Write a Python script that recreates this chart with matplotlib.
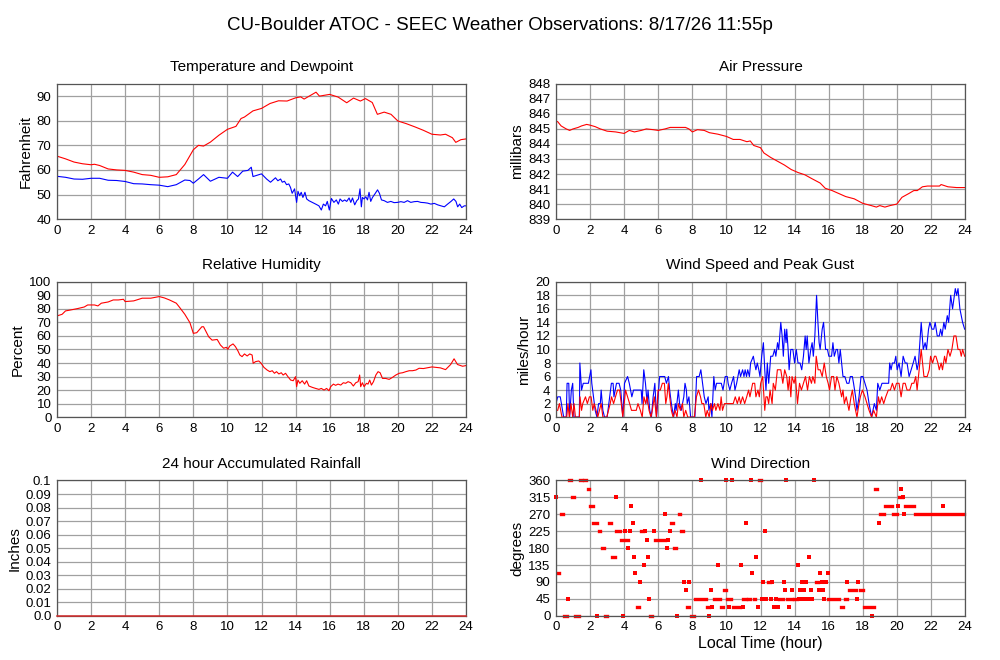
import numpy as np
import matplotlib
matplotlib.use("Agg")
import matplotlib.pyplot as plt

plt.rcParams['font.family'] = ['Liberation Sans', 'DejaVu Sans']

# Temperature and dewpoint (deg F)
temp_hours = [0, 0.5, 1, 1.5, 2, 2.2, 2.5, 3, 3.5, 4, 4.5, 5, 5.5, 6, 6.5, 7, 7.5, 8, 8.3, 8.6,
              9, 9.5, 10, 10.5, 10.8, 11, 11.5, 12, 12.5, 13, 13.5, 14, 14.3, 14.5, 15, 15.2,
              15.4, 16, 16.5, 17, 17.4, 17.8, 18.1, 18.5, 18.8, 19.2, 19.6, 20, 20.5, 21, 21.5,
              22, 22.5, 22.8, 23.2, 23.4, 23.7, 24]
temp_vals = [65.6, 64.5, 63.2, 62.5, 62.1, 62.3, 61.8, 60.4, 60.0, 59.8, 59.1, 58.1, 57.8, 57.0,
             57.2, 58.1, 62.2, 68.2, 70.0, 69.7, 71.3, 74.1, 76.5, 77.7, 80.9, 81.5, 84.0, 85.0,
             87.0, 88.1, 88.0, 89.3, 89.7, 88.8, 90.8, 91.6, 90.0, 90.7, 89.6, 87.3, 89.2, 88.0,
             89.0, 87.4, 82.6, 83.5, 82.6, 79.9, 78.8, 77.5, 76.1, 74.5, 74.2, 74.5, 73.1, 71.2,
             72.3, 72.6]

dew_hours = [0, 0.5, 1, 1.5, 2, 2.5, 3, 3.5, 4, 4.5, 5, 5.5, 6, 6.5, 7, 7.5, 7.8, 8, 8.3, 8.6,
             9, 9.5, 10, 10.3, 10.6, 10.9, 11.2, 11.4, 11.5, 12, 12.3,
             12.53, 12.82, 12.96, 13.12, 13.22, 13.35, 13.47, 13.6, 13.7, 13.8, 13.94, 14.06,
             14.14, 14.24, 14.33, 14.43, 14.55, 14.65, 14.78, 14.98, 15.18, 15.37, 15.51, 15.63,
             15.76, 15.86, 15.98, 16.1, 16.25, 16.39, 16.51, 16.61, 16.75, 16.88, 17.0, 17.14,
             17.24, 17.34, 17.47, 17.59, 17.69, 17.78, 17.86, 17.92, 18.02, 18.12, 18.22, 18.31,
             18.41, 18.51, 18.65, 18.81, 18.92, 19.04, 19.2, 19.39, 19.59, 19.78, 19.98, 20.18,
             20.37, 20.57, 20.76, 20.96, 21.16, 21.35, 21.55, 21.75, 21.94, 22.14, 22.34, 22.53,
             22.73, 22.92, 23.12, 23.28, 23.41, 23.51, 23.63, 23.75, 23.9, 24]
dew_vals = [57.4, 57.0, 56.3, 56.2, 56.6, 56.6, 55.8, 55.7, 55.3, 54.4, 54.3, 54.0, 53.8, 53.2,
            54.0, 55.9, 55.7, 54.6, 56.3, 58.1, 55.4, 57.0, 56.6, 59.1, 57.3, 59.5, 59.8, 61.1,
            57.3, 58.4, 56.3,
            55.0, 56.8, 55.6, 56.3, 55.0, 55.4, 54.0, 54.3, 52.9, 50.5, 52.3, 46.8,
            51.3, 49.5, 50.9, 48.8, 50.9, 48.2, 47.5, 46.8, 46.1, 45.4, 43.7, 46.1,
            45.4, 47.2, 43.7, 48.4, 46.8, 47.8, 46.1, 48.2, 47.2, 47.8, 47.2, 48.6,
            46.8, 48.6, 45.8, 47.5, 48.2, 52.3, 45.0, 48.8, 48.2, 49.1, 47.8, 50.9,
            47.2, 48.8, 50.2, 51.9, 50.5, 47.8, 47.5, 46.8, 47.2, 46.7, 46.8, 47.1,
            46.8, 47.5, 46.8, 47.1, 47.2, 46.8, 46.7, 46.5, 46.1, 46.4, 45.8, 45.4,
            45.0, 46.1, 47.2, 48.2, 47.2, 45.0, 46.1, 44.7, 45.4, 45.4]

# Air pressure (mb)
pres_hours = [0, 0.1, 0.3, 0.6, 0.8, 1, 1.3, 1.5, 1.8, 2, 2.3, 2.6, 3, 3.5, 4, 4.3, 4.6, 5, 5.3,
              5.7, 6, 6.4, 6.7, 7, 7.6, 7.8, 8, 8.3, 8.7, 9, 9.5, 10, 10.4, 10.8, 11.2, 11.4,
              11.6, 12, 12.2, 12.6, 13, 13.4, 13.8, 14.2, 14.6, 15, 15.5, 15.8, 16.2, 16.6, 17,
              17.5, 18, 18.5, 18.8, 19, 19.3, 19.6, 20, 20.3, 20.7, 21, 21.2, 21.5, 21.8, 22,
              22.5, 22.6, 23, 23.5, 24]
pres_vals = [845.52, 845.48, 845.2, 845.0, 844.9, 845.0, 845.1, 845.2, 845.3, 845.25, 845.15,
             845.0, 844.85, 844.8, 844.7, 844.9, 844.8, 844.9, 845.0, 844.95, 844.9, 845.0,
             845.1, 845.1, 845.1, 845.0, 844.8, 844.95, 844.9, 844.75, 844.65, 844.5, 844.3,
             844.3, 844.15, 844.2, 843.9, 843.75, 843.4, 843.1, 842.85, 842.6, 842.3, 842.1,
             841.95, 841.7, 841.4, 841.05, 840.9, 840.7, 840.5, 840.35, 840.05, 839.9, 839.8,
             839.9, 839.8, 839.9, 840.0, 840.45, 840.7, 840.9, 840.9, 841.15, 841.2, 841.2,
             841.2, 841.3, 841.15, 841.1, 841.1]

# Relative humidity (%)
rh_hours = [0, 0.3, 0.5, 0.8, 1.2, 1.6, 1.8, 2.2, 2.4, 2.6, 3, 3.3, 3.6, 3.9, 4, 4.5, 5, 5.5, 6,
            6.3, 6.6, 7, 7.2, 7.5, 7.8, 8, 8.2, 8.5, 8.6, 8.9, 9.1, 9.4,
            9.59, 9.78, 9.94, 10.02, 10.14, 10.33, 10.47, 10.61, 10.73, 10.86, 11.0, 11.16,
            11.31, 11.45, 11.51, 11.65, 11.84, 11.98, 12.14, 12.33, 12.49, 12.63, 12.76, 12.88,
            13.02, 13.16, 13.27, 13.41, 13.55, 13.71, 13.86, 14.0, 14.06, 14.14, 14.25, 14.39,
            14.53, 14.65, 14.78, 14.98, 15.18, 15.37, 15.51, 15.67, 15.82, 15.96, 16.06, 16.22,
            16.35, 16.49, 16.65, 16.8, 16.94, 17.08, 17.24, 17.39, 17.53, 17.67, 17.76, 17.82,
            17.92, 18.02, 18.16, 18.25, 18.35, 18.45, 18.57, 18.71, 18.84, 18.96, 19.1, 19.29,
            19.49, 19.69, 19.88, 20.08, 20.28, 20.47, 20.67, 20.86, 21.06, 21.25,
            21.5, 22, 22.5, 22.8, 23.1, 23.3, 23.5, 23.8, 24]
rh_vals = [74.8, 76.0, 78.5, 79.2, 80.2, 81.4, 82.9, 82.9, 82.2, 84.2, 85.1, 86.6, 86.6, 87.1,
           85.4, 85.9, 87.9, 87.9, 89.1, 88.1, 86.6, 84.2, 81.0, 76.0, 69.8, 61.9, 62.4, 66.8,
           66.8, 59.4, 56.9, 57.4,
           53.3, 50.9, 51.6, 50.1, 52.6, 54.1, 52.1, 49.1, 45.9, 44.7, 46.7, 45.2,
           46.7, 45.9, 39.8, 41.0, 41.5, 39.8, 36.8, 34.8, 33.6, 34.3, 32.4, 33.6,
           31.9, 32.8, 31.1, 32.4, 29.9, 27.4, 26.9, 29.9, 22.5, 27.4, 25.0, 26.9,
           24.4, 26.9, 23.0, 22.0, 21.2, 20.5, 21.2, 20.0, 21.2, 19.5, 22.5, 24.4,
           23.5, 24.4, 23.7, 25.4, 25.0, 26.2, 25.4, 23.0, 25.4, 26.2, 31.1, 22.5,
           25.4, 22.5, 25.0, 24.4, 27.4, 23.7, 26.2, 31.1, 33.6, 32.8, 28.6, 28.6,
           27.9, 29.4, 31.1, 32.4, 32.8, 33.6, 34.3, 34.3, 34.8, 36.1,
           35.9, 37.1, 36.4, 35.1, 38.9, 43.1, 38.9, 37.6, 38.1]

# Wind gust (blue) and wind speed (red), mph
gust_hours = [0, 0.1, 0.25, 0.45, 0.6, 0.65, 0.75, 0.8, 0.9, 0.98, 1.05, 1.37, 1.4, 1.5, 1.6, 1.9,
              2.05, 2.1, 2.2, 2.3, 2.4, 2.5, 2.6, 2.65, 2.75, 2.85, 3.0, 3.1, 3.25, 3.35, 3.4,
              3.55, 3.7, 3.8, 3.92, 4.02, 4.2, 4.3, 4.45, 4.55, 5.0, 5.05, 5.15, 5.25, 5.35, 5.4,
              5.5, 5.6, 5.7, 5.8, 5.9, 6.08, 6.38, 6.48, 6.6, 6.67, 6.77, 6.9, 7.0, 7.05, 7.18,
              7.25, 7.35, 7.5, 7.57, 7.65, 7.7, 7.8, 7.9, 8.15, 8.25, 8.4, 8.5, 8.6, 8.7, 8.8,
              8.93, 8.97, 9.07, 9.15, 9.26, 9.34, 9.42, 9.7, 9.8, 9.93, 10.05, 10.1, 10.2, 10.3,
              10.42, 10.5, 10.6, 10.75, 10.83, 10.95, 11.03, 11.1, 11.18, 11.25, 11.35, 11.42,
              11.58, 11.65, 11.73, 11.81, 11.9, 11.97, 12.07, 12.17, 12.25, 12.32, 12.4, 12.48,
              12.6, 12.72, 12.83, 12.9, 13.0, 13.07, 13.19, 13.27, 13.34, 13.42, 13.5, 13.54,
              13.62, 13.68, 13.78, 13.9, 14.0, 14.1, 14.2, 14.32, 14.42, 14.52, 14.62, 14.68,
              14.74, 14.84, 14.95, 15.03, 15.1, 15.19, 15.29, 15.37, 15.44, 15.5, 15.62, 15.7,
              15.82, 15.93, 16.01, 16.17, 16.25, 16.33, 16.44, 16.52, 16.6, 16.68, 16.76, 16.84,
              16.95, 17.07, 17.19, 17.27, 17.39, 17.46, 17.58, 17.66, 17.78, 17.9, 18.01, 18.13,
              18.25, 18.37, 18.52, 18.6, 18.68, 18.8, 18.88, 19.0, 19.13, 19.52, 19.58, 19.66,
              19.74, 19.86, 19.94, 20.02, 20.13, 20.25, 20.37, 20.49, 20.6, 20.72, 20.84, 20.96,
              21.07, 21.19, 21.27, 21.43, 21.55, 21.66, 21.74, 21.86, 21.94, 22.06, 22.17, 22.25,
              22.37, 22.49, 22.57, 22.65, 22.76, 22.84, 22.96, 23.04, 23.16, 23.27, 23.43, 23.51,
              23.59, 23.7, 23.86, 23.98]
gust_vals = [2, 3, 3, 0, 0, 5, 5, 0, 4, 5, 0, 0, 8, 4, 5, 5,
             7, 5, 3, 1, 0, 2, 2, 4, 1, 0, 0, 2, 5, 5, 3,
             5, 5, 4, 0, 5, 6, 5, 3, 4, 4, 2, 7, 5, 2, 4,
             1, 0, 3, 5, 0, 6, 6, 5, 6, 4, 2, 0, 2, 1, 4,
             2, 1, 3, 5, 4, 2, 3, 0, 0, 6, 6, 7, 5, 3, 2,
             3, 1, 2, 0, 6, 4, 5, 5, 4, 6, 6, 5, 4, 5,
             6, 4, 5, 7, 6, 7, 6, 7, 6, 7, 6, 8,
             9, 8, 7, 8, 7, 6, 9, 11, 7, 4, 8, 5,
             9, 9, 10, 9, 11, 10, 14, 12, 9, 13, 11, 13,
             10, 7, 10, 10, 8, 10, 8, 8, 7, 9, 12, 10,
             12, 8, 10, 11, 9, 12, 18, 14, 11, 10, 13, 14,
             10, 10, 9, 9, 11, 9, 10, 10, 8, 10, 8, 6,
             6, 5, 5, 6, 6, 5, 3, 1, 3, 6, 6, 5,
             4, 2, 0, 1, 2, 1, 5, 4, 5, 5, 8, 7,
             8, 8, 9, 7, 8, 6, 9, 8, 8, 6, 7, 8,
             9, 7, 8, 14, 10, 11, 10, 13, 14, 13, 13, 14,
             12, 12, 13, 12, 14, 13, 15, 14, 18, 16, 19, 18,
             19, 16, 14, 13]

speed_hours = [0, 0.1, 0.2, 0.35, 0.63, 0.7, 0.78, 0.88, 0.98, 1.06, 1.14, 1.37, 1.41, 1.5, 1.57,
               1.73, 1.84, 1.96, 2.06, 2.16, 2.24, 2.35, 2.45, 2.55, 2.65, 2.75, 2.98, 3.08,
               3.18, 3.26, 3.38, 3.49, 3.61, 3.73, 3.83, 3.92, 4.08, 4.2, 4.32, 4.43, 4.71,
               4.81, 4.95, 5.06, 5.16, 5.26, 5.34, 5.46, 5.57, 5.65, 5.77, 5.89, 5.99, 6.12,
               6.24, 6.36, 6.44, 6.51, 6.59, 6.67, 6.77, 6.87, 6.99, 7.1, 7.18, 7.3, 7.42, 7.5,
               7.61, 7.73, 8.12, 8.24, 8.36, 8.48, 8.56, 8.67, 8.79, 8.87, 8.99, 9.1, 9.18,
               9.3, 9.38, 9.5, 9.62, 9.69, 9.77, 9.89, 10.2, 10.4, 10.52, 10.64, 10.75, 10.83,
               10.95, 11.07, 11.19, 11.3, 11.38, 11.54, 11.66, 11.73, 11.85, 11.93, 12.01,
               12.13, 12.25, 12.32, 12.4, 12.48, 12.56, 12.68, 12.75, 12.87, 12.99, 13.19,
               13.31, 13.42, 13.54, 13.62, 13.7, 13.78, 13.85, 13.97, 14.05, 14.17, 14.29,
               14.4, 14.52, 14.64, 14.76, 14.87, 14.99, 15.07, 15.19, 15.27, 15.38, 15.5,
               15.62, 15.74, 15.86, 15.97, 16.05, 16.17, 16.29, 16.37, 16.48, 16.6, 16.68,
               16.76, 16.84, 16.92, 17.03, 17.11, 17.19, 17.31, 17.39, 17.5, 17.66, 17.78,
               17.86, 17.98, 18.13, 18.25, 18.37, 18.52, 18.64, 18.8, 18.92, 19.0, 19.11,
               19.23, 19.35, 19.5, 19.62, 19.74, 19.86, 19.98, 20.13, 20.25, 20.37, 20.49,
               20.6, 20.76, 20.88, 21.0, 21.11, 21.19, 21.27, 21.35, 21.43, 21.51, 21.59,
               21.78, 21.9, 21.98, 22.1, 22.21, 22.29, 22.41, 22.49, 22.6, 22.68, 22.8, 22.88,
               23.0, 23.12, 23.23, 23.35, 23.47, 23.59, 23.7, 23.78, 23.86, 23.98]
speed_vals = [1, 1, 2, 0, 0, 2, 0, 2, 0, 2, 0, 0, 3, 1, 2,
              3, 2, 3, 3, 1, 2, 1, 0, 1, 2, 0, 0, 1,
              2, 3, 2, 3, 4, 4, 2, 0, 4, 3, 2, 1, 1,
              2, 1, 0, 3, 2, 3, 1, 0, 1, 3, 0, 4, 4,
              5, 5, 2, 3, 5, 3, 1, 0, 1, 0, 2, 1, 2, 0,
              1, 0, 0, 3, 4, 3, 2, 2, 0, 1, 0, 2, 1,
              2, 1, 2, 1, 3, 1, 2, 2, 2, 3, 2, 3, 2,
              3, 2, 3, 4, 3, 5, 5, 3, 4, 3, 5,
              6, 1, 3, 3, 2, 4, 2, 5, 4, 7, 7,
              5, 7, 6, 4, 6, 3, 6, 5, 6, 2, 5,
              4, 5, 6, 4, 6, 5, 6, 5, 9, 7, 7,
              6, 8, 6, 5, 4, 6, 6, 4, 6, 5, 4,
              3, 4, 2, 3, 2, 1, 3, 4, 2, 0, 2,
              3, 4, 3, 2, 1, 0, 1, 0, 3, 2, 3,
              2, 3, 4, 4, 5, 4, 5, 5, 3, 5, 5,
              4, 4, 5, 5, 6, 4, 6, 8, 10, 8, 6,
              6, 7, 9, 8, 9, 9, 8, 7, 8, 7, 9, 8,
              10, 9, 10, 12, 12, 10, 10, 9, 10, 9]

# 24 hour accumulated rainfall (inches)
rain_hours = [0, 6, 12, 18, 24]
rain_vals = [0.0, 0.0, 0.0, 0.0, 0.0]

# Wind direction (degrees): single observations
dir_hours = [0.0, 0.7, 2.43, 3.5, 3.96, 4.05, 4.25, 4.33, 4.43, 4.5, 4.58, 4.66, 4.93, 5.17,
             5.25, 5.33, 5.37, 5.45, 5.75, 6.42, 6.5, 6.6, 6.68, 7.1, 7.52, 7.6, 7.83, 8.5,
             9.0, 9.08, 9.15, 9.5, 10.0, 10.15, 10.3, 10.85, 11.0, 11.17, 11.42, 11.52, 11.75,
             11.83, 12.08, 12.15, 12.25, 12.35, 12.62, 12.7, 12.78, 12.9, 13.0, 13.36, 13.44,
             13.5, 13.68, 13.83, 14.18, 14.26, 14.34, 14.42, 14.5, 14.58, 14.65, 14.73, 14.83,
             14.9, 14.97, 15.05, 15.16, 15.44, 15.52, 15.6, 15.67, 15.75, 15.83, 15.95, 17.08,
             17.67, 17.75, 18.57, 18.93, 20.07, 20.27, 20.35, 20.42, 22.7]
dir_vals = [315, 45, 0, 315, 0, 225, 180, 225, 292.5, 247.5, 157.5, 112.5, 90, 135,
            225, 202.5, 157.5, 45, 225, 270, 180, 202.5, 225, 0, 90, 67.5, 90, 360,
            0, 67.5, 22.5, 135, 360, 22.5, 360, 135, 22.5, 247.5, 360, 112.5, 157.5,
            22.5, 45, 90, 225, 45, 45, 90, 22.5, 45, 22.5, 90, 67.5,
            360, 22.5, 67.5, 135, 45, 67.5, 90, 45, 67.5, 90, 45, 157.5,
            45, 67.5, 45, 360, 67.5, 112.5, 90, 67.5, 45, 90, 112.5, 90,
            45, 90, 0, 247.5, 292.5, 337.5, 315, 270, 292.5]

# Wind direction: runs of repeated observations (start hour, end hour, degrees)
dir_runs = [(0.1, 0.2, 112.5), (0.3, 0.4, 270), (0.45, 0.65, 0), (0.75, 0.9, 360),
            (0.95, 1.08, 315), (1.1, 1.35, 0), (1.4, 1.55, 360), (1.58, 1.6, 337.5),
            (1.65, 1.78, 360), (1.85, 1.95, 337.5), (2.0, 2.15, 292.5), (2.2, 2.4, 247.5),
            (2.5, 2.6, 225), (2.7, 2.82, 180), (2.85, 3.0, 0), (3.1, 3.2, 247.5),
            (3.3, 3.45, 157.5), (3.55, 3.75, 225), (3.8, 3.95, 202.5), (4.1, 4.2, 202.5),
            (4.75, 4.85, 22.5), (5.0, 5.13, 225), (5.52, 5.65, 0), (5.8, 6.4, 202.5),
            (6.75, 6.88, 247.5), (6.93, 7.05, 180), (7.2, 7.3, 270), (7.35, 7.45, 225),
            (7.7, 7.8, 22.5), (7.9, 8.1, 0), (8.15, 8.8, 45), (8.85, 8.95, 22.5),
            (9.28, 9.65, 45), (9.7, 9.8, 22.5), (9.85, 9.98, 67.5), (10.05, 10.25, 45),
            (10.4, 10.8, 22.5), (10.95, 11.15, 45), (11.25, 11.4, 45), (11.6, 11.7, 45),
            (11.9, 12.0, 360), (12.42, 12.55, 90), (13.1, 13.3, 45), (13.56, 13.87, 45),
            (13.95, 14.15, 45), (15.24, 15.36, 90), (15.98, 16.62, 45), (16.7, 16.85, 22.5),
            (16.93, 17.05, 45), (17.18, 17.63, 67.5), (17.83, 18.03, 67.5),
            (18.1, 18.65, 22.5), (18.7, 18.85, 337.5), (19.0, 19.25, 270),
            (19.3, 19.7, 292.5), (19.75, 20.03, 270), (20.15, 20.28, 315),
            (20.5, 21.0, 292.5), (21.07, 23.95, 270)]

hour_ticks = list(range(0, 25, 2))
red = '#ff0000'
blue = '#0000ff'

fig = plt.figure(figsize=(10, 6.6), dpi=100)
fig.suptitle('CU-Boulder ATOC - SEEC Weather Observations: 8/17/26 11:55p',
             fontsize=13.5, y=0.975)

left_x, right_x, w, h = 0.057, 0.556, 0.409, 0.205
rows = [0.668, 0.368, 0.067]

ax_t = fig.add_axes([left_x, rows[0], w, h])
ax_p = fig.add_axes([right_x, rows[0], w, h])
ax_rh = fig.add_axes([left_x, rows[1], w, h])
ax_w = fig.add_axes([right_x, rows[1], w, h])
ax_r = fig.add_axes([left_x, rows[2], w, h])
ax_d = fig.add_axes([right_x, rows[2], w, h])


def style(ax, title, ylabel, ylim, yticks, yticklabels=None):
    ax.set_xlim(0, 24)
    ax.set_ylim(*ylim)
    ax.set_xticks(hour_ticks)
    ax.set_yticks(yticks)
    if yticklabels is not None:
        ax.set_yticklabels(yticklabels)
    ax.grid(True, color='#a0a0a0', linewidth=0.9)
    ax.set_axisbelow(True)
    ax.tick_params(length=0, pad=4, labelsize=9.5, colors='black')
    for s in ax.spines.values():
        s.set_color('#555555')
        s.set_linewidth(0.9)
    ax.set_title(title, fontsize=11, pad=9)
    ax.set_ylabel(ylabel, fontsize=11, labelpad=3)


ax_t.plot(temp_hours, temp_vals, color=red, lw=0.8)
ax_t.plot(dew_hours, dew_vals, color=blue, lw=0.8)
style(ax_t, 'Temperature and Dewpoint', 'Fahrenheit', (40, 95), range(40, 91, 10))

ax_p.plot(pres_hours, pres_vals, color=red, lw=0.8)
style(ax_p, 'Air Pressure', 'millibars', (839, 848), range(839, 849))

ax_rh.plot(rh_hours, rh_vals, color=red, lw=0.8)
style(ax_rh, 'Relative Humidity', 'Percent', (0, 100), range(0, 101, 10))

ax_w.plot(gust_hours, gust_vals, color=blue, lw=0.8)
ax_w.plot(speed_hours, speed_vals, color=red, lw=0.8)
style(ax_w, 'Wind Speed and Peak Gust', 'miles/hour', (0, 20), range(0, 21, 2))

ax_r.plot(rain_hours, rain_vals, color='#d42a2a', lw=1.1, clip_on=False, zorder=5)
rain_ticks = [i / 100 for i in range(11)]
rain_labels = ['0.0'] + ['%.2f' % v for v in rain_ticks[1:10]] + ['0.1']
style(ax_r, '24 hour Accumulated Rainfall', 'Inches', (0, 0.1), rain_ticks, rain_labels)

ax_d.plot(dir_hours, dir_vals, linestyle='none', marker='s', ms=2.4, mew=0,
          color=red, clip_on=False)
ax_d.hlines([r[2] for r in dir_runs], [r[0] for r in dir_runs], [r[1] for r in dir_runs],
            color=red, lw=2.4, capstyle='projecting', clip_on=False)
style(ax_d, 'Wind Direction', 'degrees', (0, 360), range(0, 361, 45))
ax_d.set_xlabel('Local Time (hour)', fontsize=11.5, labelpad=2)

plt.savefig('out.png', dpi=100)
